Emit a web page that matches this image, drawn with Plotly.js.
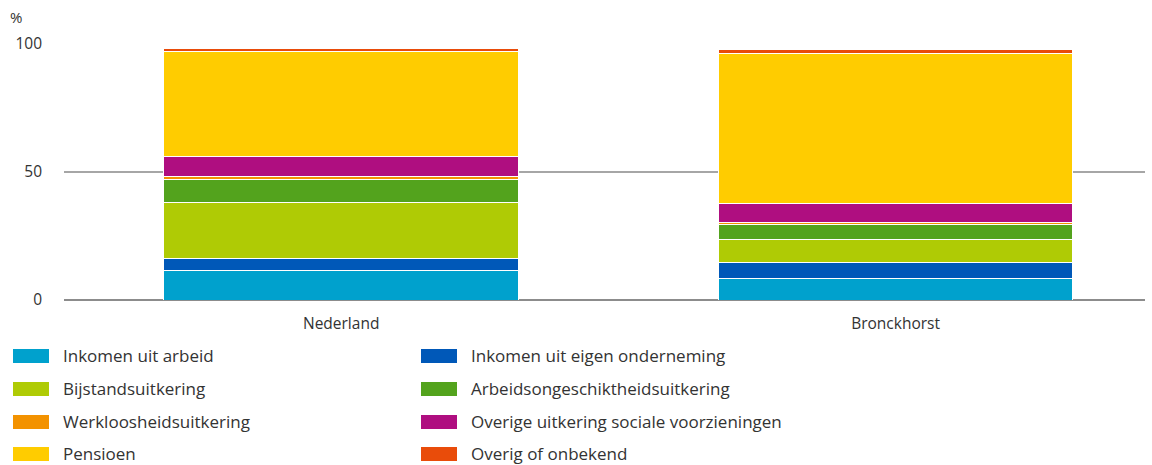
<!DOCTYPE html>
<html>
<head>
<meta charset="utf-8">
<script src="https://cdn.plot.ly/plotly-3.0.1.min.js"></script>
<style>html,body{margin:0;padding:0;background:#fff;}#chart{width:1152px;height:465px;}</style>
</head>
<body>
<div id="chart"></div>
<script>
// Data
const categories = ['Nederland', 'Bronckhorst'];
const seriesNames = [
  'Inkomen uit arbeid',
  'Inkomen uit eigen onderneming',
  'Bijstandsuitkering',
  'Arbeidsongeschiktheidsuitkering',
  'Werkloosheidsuitkering',
  'Overige uitkering sociale voorzieningen',
  'Pensioen',
  'Overig of onbekend'
];
const inkomenArbeid      = [11.5, 8.5];
const eigenOnderneming   = [4.8, 6.2];
const bijstand           = [21.9, 9.0];
const arbeidsongeschikt  = [8.9, 5.6];
const werkloosheid       = [1.2, 0.9];
const overigeSociaal     = [7.8, 7.5];
const pensioen           = [40.9, 58.7];
const overigOnbekend     = [1.1, 1.5];
const seriesValues = [inkomenArbeid, eigenOnderneming, bijstand, arbeidsongeschikt,
                      werkloosheid, overigeSociaal, pensioen, overigOnbekend];
const seriesColors = ['#00A1CD', '#0058B8', '#AFCB05', '#53A31D',
                      '#F39200', '#AF0E80', '#FFCC00', '#E94C0A'];
const yTicks = [0, 50, 100];
const yUnit = '%';

// Layout geometry
const W = 1152, H = 465;
const M = {l: 64, r: 7, t: 44, b: 165};
const pw = W - M.l - M.r, ph = H - M.t - M.b;
const px2x = px => (px - M.l) / pw;
const py2y = py => (H - M.b - py) / ph;

const font = "'Open Sans', 'DejaVu Sans', sans-serif";
const textColor = '#333333';

const traces = seriesNames.map((name, i) => ({
  type: 'bar',
  name: name,
  x: categories,
  y: seriesValues[i],
  width: 0.64,
  marker: {color: seriesColors[i], line: {color: '#ffffff', width: 1}},
  showlegend: false,
  hoverinfo: 'x+y+name'
}));

// custom legend (two columns, row-major order)
const shapes = [];
const annotations = [];
const colSwatchX = [13, 421];
const colTextX = [62, 470];
const rowY = [356, 389, 422, 454];
seriesNames.forEach((name, i) => {
  const col = i % 2, row = Math.floor(i / 2);
  const cy = rowY[row];
  shapes.push({
    type: 'rect', xref: 'paper', yref: 'paper', layer: 'above',
    x0: px2x(colSwatchX[col]), x1: px2x(colSwatchX[col] + 36),
    y0: py2y(cy + 7), y1: py2y(cy - 7),
    fillcolor: seriesColors[i], line: {width: 0}
  });
  annotations.push({
    xref: 'paper', yref: 'paper', x: px2x(colTextX[col]), y: py2y(cy - 1),
    xanchor: 'left', yanchor: 'middle', showarrow: false, borderpad: 0,
    text: name, font: {family: font, size: 17, color: textColor}
  });
});
annotations.push({
  xref: 'paper', yref: 'paper', x: px2x(8), y: py2y(17),
  xanchor: 'left', yanchor: 'middle', showarrow: false,
  text: yUnit, font: {family: font, size: 15, color: textColor}
});

const layout = {
  width: W, height: H,
  margin: M,
  paper_bgcolor: '#ffffff', plot_bgcolor: '#ffffff',
  barmode: 'stack',
  bargap: 0,
  showlegend: false,
  font: {family: font, size: 15, color: textColor},
  xaxis: {
    type: 'category',
    range: [-0.5, 1.45],
    showgrid: false, zeroline: false, showline: false,
    ticks: '', ticklabelstandoff: 12,
    tickfont: {family: font, size: 15.5, color: textColor},
    fixedrange: true
  },
  yaxis: {
    range: [0, 100],
    tickvals: yTicks,
    ticktext: yTicks.map(String),
    showgrid: true, gridcolor: '#a6a6a6', gridwidth: 1.5,
    zeroline: true, zerolinecolor: '#8c8c8c', zerolinewidth: 2.5,
    showline: false, ticks: '', ticklabelstandoff: 21,
    tickfont: {family: font, size: 15.5, color: textColor},
    fixedrange: true
  },
  shapes: shapes,
  annotations: annotations
};

Plotly.newPlot('chart', traces, layout, {displayModeBar: false, staticPlot: true});
</script>
</body>
</html>
